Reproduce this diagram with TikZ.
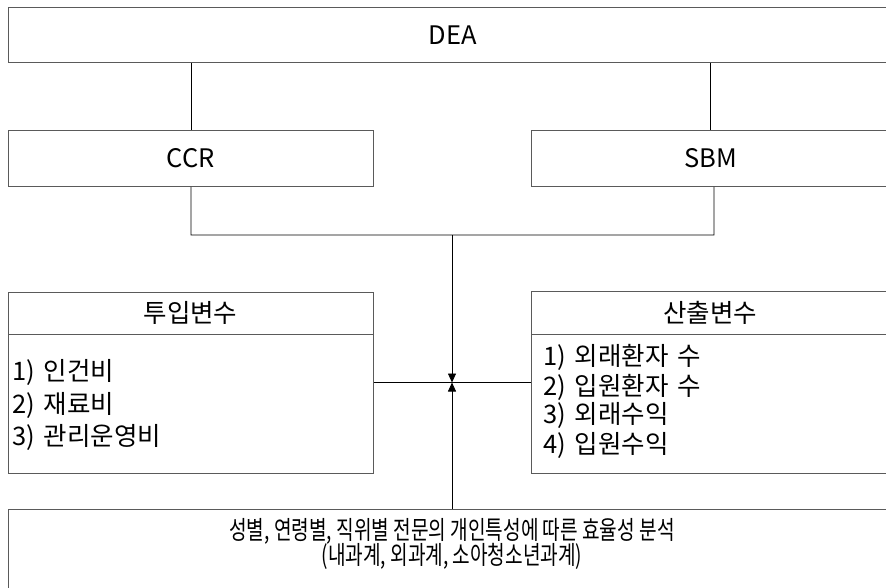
\documentclass[tikz,border=0pt]{standalone}
\usepackage{fontspec}
\usepackage{graphicx}
\setmainfont{Noto Sans CJK KR}
\usetikzlibrary{arrows.meta}
\definecolor{bordercol}{HTML}{5A5A5A}
\tikzset{
  box/.style={draw=bordercol, line width=0.8pt, inner sep=0pt, rectangle, anchor=north west},
  txt/.style={inner sep=0pt, font=\fontsize{25.5}{30}\selectfont},
  item/.style={txt, anchor=west},
  conn/.style={draw=black, line width=0.8pt},
  arr/.style={conn, -{Triangle[length=9pt,width=8pt]}}
}
\newcommand{\itemgap}{\hspace{0.35em}}
\newcommand{\wordgap}{\hspace{0.1em}}
\newcommand{\condtext}[1]{\scalebox{0.75}[1]{#1}}
\begin{document}
\begin{tikzpicture}[x=1pt,y=-1pt]
\useasboundingbox (0,0) rectangle (886,587);
% boxes
\node[box, minimum width=890pt, minimum height=55pt] (dea) at (8,7) {};
\node[txt] (deat) at (453,35) {DEA};
\node[box, minimum width=365pt, minimum height=56pt] (ccr) at (8,130) {};
\node[txt] (ccrt) at (190.5,158) {CCR};
\node[box, minimum width=360pt, minimum height=56pt] (sbm) at (531,130) {};
\node[txt] (sbmt) at (711,158) {SBM};
% input box
\node[box, minimum width=365pt, minimum height=181pt] (inb) at (8,292) {};
\draw[draw=bordercol, line width=0.8pt] (8,334) -- (373,334);
\node[txt] (int) at (190.5,313) {투입변수};
\node[item] (i1) at (12,372) {1)\itemgap 인건비};
\node[item] (i2) at (12,405) {2)\itemgap 재료비};
\node[item] (i3) at (12,437) {3)\itemgap 관리운영비};
% output box
\node[box, minimum width=358pt, minimum height=182pt] (outb) at (531,291) {};
\draw[draw=bordercol, line width=0.8pt] (531,334) -- (889,334);
\node[txt] (outt) at (710,313) {산출변수};
\node[item] (o1) at (543,357) {1)\itemgap 외래환자 \wordgap 수};
\node[item] (o2) at (543,387) {2)\itemgap 입원환자 \wordgap 수};
\node[item] (o3) at (543,415) {3)\itemgap 외래수익};
\node[item] (o4) at (543,445) {4)\itemgap 입원수익};
% bottom box
\node[box, minimum width=890pt, minimum height=90pt] (bot) at (8,509) {};
\node[txt] (b1) at (452,531) {\condtext{성별, 연령별, 직위별 전문의 개인특성에 따른 효율성 분석}};
\node[txt] (b2) at (452,556) {\condtext{(내과계, 외과계, 소아청소년과계)}};
% connectors
\coordinate (cl) at (191,235);
\coordinate (cr) at (714,235);
\coordinate (join) at (452,235);
\coordinate (mid) at (452,382.5);
\draw[conn] (dea.south -| ccr.north) -- (ccr.north);
\draw[conn] (dea.south -| 710,0) -- (sbm.north -| 710,0);
\draw[conn] (ccr.south) -- (cl) -- (cr) -- (cr |- sbm.south);
\draw[conn] (inb.east |- mid) -- (outb.west |- mid);
\draw[arr] (join) -- (mid);
\draw[arr] (bot.north -| mid) -- (mid);
\end{tikzpicture}
\end{document}
